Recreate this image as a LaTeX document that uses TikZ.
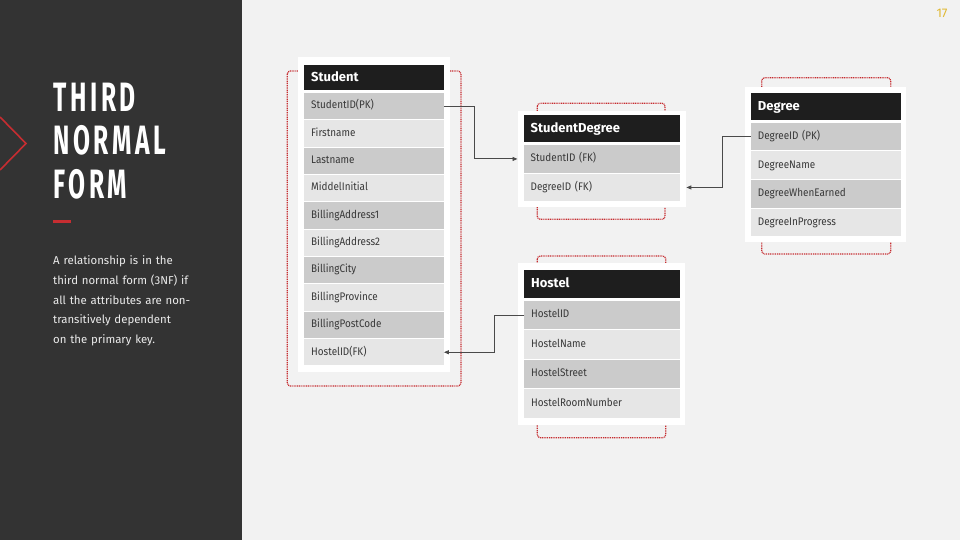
\documentclass[tikz,border=0pt]{standalone}
\usepackage{fontspec}
\setmainfont{Fira Sans}
\newfontfamily\titlefont[FakeStretch=0.6,LetterSpace=9]{Fira Sans}
\newfontfamily\rowfont[FakeStretch=0.9]{Fira Sans}
\usetikzlibrary{arrows.meta}

\definecolor{panel}{HTML}{333333}
\definecolor{page}{HTML}{F2F2F2}
\definecolor{hdrblack}{HTML}{1E1E1E}
\definecolor{rowdark}{HTML}{CBCBCB}
\definecolor{rowlight}{HTML}{E6E6E6}
\definecolor{accent}{HTML}{C62D31}
\definecolor{linkgray}{HTML}{4A4A4A}
\definecolor{pagenum}{HTML}{E0B830}

\tikzset{
  card/.style={fill=white},
  keybox/.style={draw=accent, line width=1.2pt, dash pattern=on 1pt off 0.8pt, rounded corners=3pt},
  hdr/.style={anchor=north west, fill=hdrblack, text=white, font=\bfseries\fontsize{13}{15}\selectfont, inner xsep=7pt, inner ysep=0pt, align=left, text height=9.5pt, text depth=2.5pt},
  row/.style={anchor=north west, text=black!78, font=\rowfont\fontsize{11}{13}\selectfont, inner xsep=7pt, inner ysep=0pt, align=left, text height=8pt, text depth=2.5pt},
  dark/.style={row, fill=rowdark},
  light/.style={row, fill=rowlight},
  link/.style={draw=linkgray, line width=0.9pt, -{Triangle[length=5pt,width=4pt]}},
  title/.style={anchor=base west, inner sep=0, text=white, font=\titlefont\bfseries\fontsize{41}{43}\selectfont},
  stucol/.style={text width=125.5pt},
  sdcol/.style={text width=142.5pt},
  degcol/.style={text width=136.3pt},
  hoscol/.style={text width=142pt},
}

\begin{document}
\begin{tikzpicture}[x=1pt,y=-1pt]
  \fill[page] (0,0) rectangle (960,540);
  \useasboundingbox (0,0) rectangle (960,540);

  % left panel
  \fill[panel] (0,0) rectangle (242,540);
  \draw[accent, line width=1.6pt] (0,117) -- (26,143.5) -- (0,170);
  \node[title] (title1) at (53,111.7) {THIRD};
  \node[title] (title2) at (53,155) {NORMAL};
  \node[title] (title3) at (53,198.3) {FORM};
  \draw[accent, line width=3pt] (53,221.5) -- (71,221.5);
  \node[anchor=north west, inner sep=0, text width=185pt, align=left, text=white!92!black, font=\fontsize{11.4}{19.8}\selectfont] (intro) at (53,255.5)
    {A relationship is in the\\third normal form (3NF) if\\all the attributes are non-\\transitively dependent\\on the primary key.};
  \node[text=pagenum, font=\fontsize{12.5}{14}\selectfont] (pagenum) at (942,13) {17};

  % Student
  \draw[keybox] (287.3,71) rectangle (461,386);
  \fill[card] (298,57) rectangle (450,372);
  \node[hdr, stucol, minimum height=25.8pt] (stu-h) at (304,64.5) {Student};
  \node[dark, stucol, minimum height=26.4pt]  (stu-1)  at (304,92.7)   {StudentID(PK)};
  \node[light, stucol, minimum height=26.4pt] (stu-2)  at (304,120.05) {Firstname};
  \node[dark, stucol, minimum height=26.4pt]  (stu-3)  at (304,147.4)  {Lastname};
  \node[light, stucol, minimum height=26.4pt] (stu-4)  at (304,174.75) {MiddelInitial};
  \node[dark, stucol, minimum height=26.4pt]  (stu-5)  at (304,202.1)  {BillingAddress1};
  \node[light, stucol, minimum height=26.4pt] (stu-6)  at (304,229.45) {BillingAddress2};
  \node[dark, stucol, minimum height=26.4pt]  (stu-7)  at (304,256.8)  {BillingCity};
  \node[light, stucol, minimum height=26.4pt] (stu-8)  at (304,284.15) {BillingProvince};
  \node[dark, stucol, minimum height=26.4pt]  (stu-9)  at (304,311.5)  {BillingPostCode};
  \node[light, stucol, minimum height=26.4pt] (stu-10) at (304,338.85) {HostelID(FK)};

  % StudentDegree
  \draw[keybox] (537.3,103.3) rectangle (665,219.3);
  \fill[card] (518,110.7) rectangle (686,206.7);
  \node[hdr, sdcol, minimum height=27.3pt] (sd-h) at (523.5,115) {StudentDegree};
  \node[dark, sdcol, minimum height=27.5pt]  (sd-1) at (523.5,145)   {StudentID (FK)};
  \node[light, sdcol, minimum height=27.5pt] (sd-2) at (523.5,173.5) {DegreeID (FK)};

  % Degree
  \draw[keybox] (761.7,77.7) rectangle (890.7,254);
  \fill[card] (745,87.3) rectangle (906,241.7);
  \node[hdr, degcol, minimum height=27.3pt] (deg-h) at (750.7,92.7) {Degree};
  \node[dark, degcol, minimum height=27.5pt]  (deg-1) at (750.7,122.7) {DegreeID (PK)};
  \node[light, degcol, minimum height=27.5pt] (deg-2) at (750.7,151.3) {DegreeName};
  \node[dark, degcol, minimum height=27.5pt]  (deg-3) at (750.7,179.9) {DegreeWhenEarned};
  \node[light, degcol, minimum height=27.5pt] (deg-4) at (750.7,208.5) {DegreeInProgress};

  % Hostel
  \draw[keybox] (537.3,256) rectangle (665.7,437.7);
  \fill[card] (518.3,263.3) rectangle (685,425);
  \node[hdr, hoscol, minimum height=27.3pt] (hos-h) at (524,270) {Hostel};
  \node[dark, hoscol, minimum height=28.4pt]  (hos-1) at (524,300.7) {HostelID};
  \node[light, hoscol, minimum height=28.4pt] (hos-2) at (524,330.1) {HostelName};
  \node[dark, hoscol, minimum height=28.4pt]  (hos-3) at (524,359.5) {HostelStreet};
  \node[light, hoscol, minimum height=28.4pt] (hos-4) at (524,388.9) {HostelRoomNumber};

  % links
  \draw[link] (stu-1.east) -- ++(31,0) |- ([xshift=-6pt]sd-1.west);
  \draw[link] (deg-1.west) -- ++(-28,0) |- ([xshift=6pt]sd-2.east);
  \draw[link] (hos-1.west) -- ++(-30,0) |- (stu-10.east);
\end{tikzpicture}
\end{document}
